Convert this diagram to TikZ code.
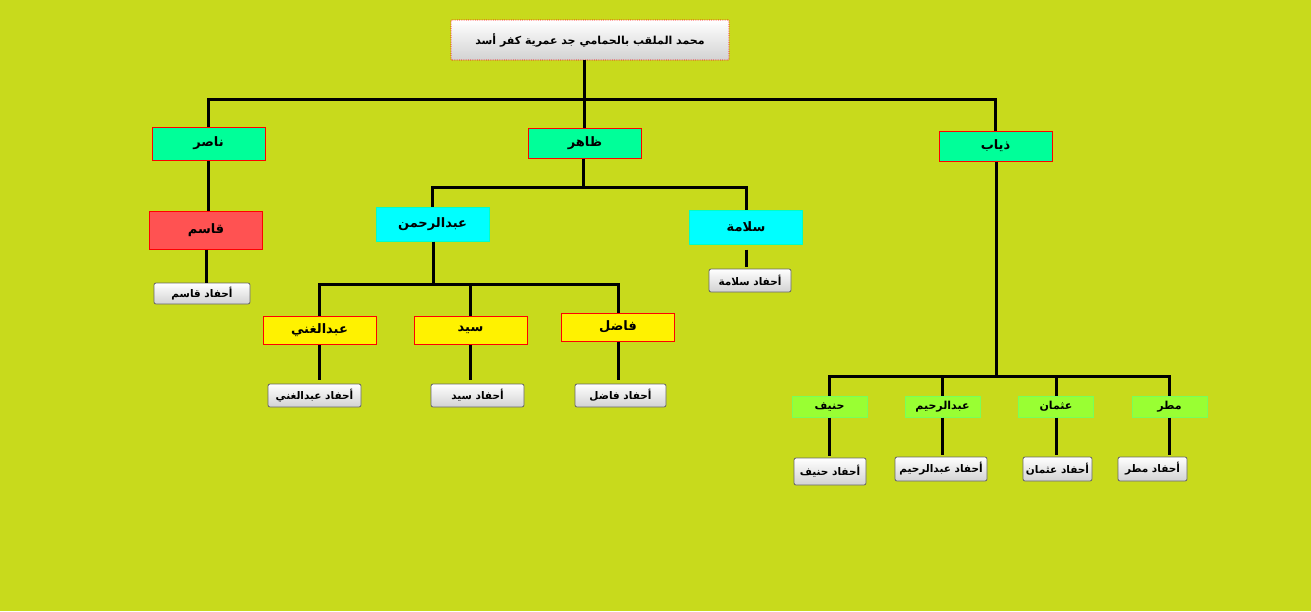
\documentclass[tikz,border=0pt]{standalone}
\usepackage{fontspec}
\newfontfamily\arabicfont[Script=Arabic]{DejaVu Sans}
\TeXXeTstate=1
\newcommand{\artext}[1]{{\arabicfont\beginR #1\endR}}

\definecolor{bgcol}{RGB}{200,218,28}
\definecolor{springcol}{RGB}{0,255,153}
\definecolor{qasimcol}{RGB}{255,82,82}
\definecolor{leafcol}{RGB}{153,255,51}
\definecolor{leafedge}{RGB}{120,255,90}
\definecolor{cyancol}{RGB}{0,255,255}
\definecolor{cyanedge}{RGB}{0,255,200}

\tikzstyle{link} = [line width=3pt]
\tikzstyle{namebox} = [draw=red, line width=1pt, inner sep=0pt,
	minimum width=113pt, font=\fontsize{13}{15}\selectfont\bfseries]
\tikzstyle{leafbox} = [draw=leafedge, fill=leafcol, line width=1pt, inner sep=0pt,
	minimum width=75pt, minimum height=21pt, font=\fontsize{11}{13}\selectfont\bfseries]
\tikzstyle{button} = [draw=gray!80!black, rounded corners=2pt, line width=0.8pt,
	top color=white, bottom color=gray!35, inner sep=0pt,
	minimum height=23pt, font=\fontsize{10.5}{12}\selectfont\bfseries]

\begin{document}
\begin{tikzpicture}[x=1pt,y=-1pt]
	\fill[bgcol] (0,0) rectangle (1311,611);
	\useasboundingbox (0,0) rectangle (1311,611);

	% root
	\node[button, draw=red, densely dotted, rounded corners=1pt, minimum width=278pt,
		minimum height=40pt, font=\fontsize{11}{13}\selectfont\bfseries] (root) at (590,40)
		{\artext{محمد الملقب بالحمامي جد عمرية كفر أسد}};

	% sons
	\node[namebox, fill=springcol, minimum height=33pt] (nasir) at (208.5,143.5) {\artext{ناصر}};
	\node[namebox, fill=springcol, minimum height=30pt] (zahir) at (585,143) {\artext{ظاهر}};
	\node[namebox, fill=springcol, minimum height=30pt] (dhiyab) at (995.5,146) {\artext{ذياب}};

	\node[namebox, fill=qasimcol, minimum height=38pt] (qasim) at (206,230) {\artext{قاسم}};
	\node[namebox, draw=cyanedge, fill=cyancol, minimum height=34pt] (abdrahman) at (432.5,224) {\artext{عبدالرحمن}};
	\node[namebox, draw=cyanedge, fill=cyancol, minimum height=34pt] (salama) at (746,227) {\artext{سلامة}};

	\node[namebox, fill=yellow, minimum height=28pt] (abdghani) at (319.5,330) {\artext{عبدالغني}};
	\node[namebox, fill=yellow, minimum height=28pt] (sayyid) at (470.5,330) {\artext{سيد}};
	\node[namebox, fill=yellow, minimum height=28pt] (fadil) at (618,327) {\artext{فاضل}};

	\node[leafbox] (hunayf) at (829.5,406.5) {\artext{حنيف}};
	\node[leafbox] (abdrahim) at (942.5,406.5) {\artext{عبدالرحيم}};
	\node[leafbox] (uthman) at (1056,406.5) {\artext{عثمان}};
	\node[leafbox] (matar) at (1169.5,406.5) {\artext{مطر}};

	% grandchildren buttons
	\node[button, minimum width=96pt, minimum height=21pt] (bqasim) at (202,293.5) {\artext{أحفاد قاسم}};
	\node[button, minimum width=82pt] (bsalama) at (750,280.5) {\artext{أحفاد سلامة}};
	\node[button, minimum width=93pt] (bghani) at (314.5,395.5) {\artext{أحفاد عبدالغني}};
	\node[button, minimum width=93pt] (bsayyid) at (477.5,395.5) {\artext{أحفاد سيد}};
	\node[button, minimum width=91pt] (bfadil) at (620.5,395.5) {\artext{أحفاد فاضل}};
	\node[button, minimum width=72pt, minimum height=27pt] (bhunayf) at (830,471.5) {\artext{أحفاد حنيف}};
	\node[button, minimum width=92pt, minimum height=24pt] (babdrahim) at (941,469) {\artext{أحفاد عبدالرحيم}};
	\node[button, minimum width=69pt, minimum height=24pt] (buthman) at (1057.5,469) {\artext{أحفاد عثمان}};
	\node[button, minimum width=69pt, minimum height=24pt] (bmatar) at (1152.5,469) {\artext{أحفاد مطر}};

	% junctions
	\coordinate (j0) at (584,99);
	\coordinate (j1) at (583,187);
	\coordinate (j2) at (433,284);
	\coordinate (j3) at (996,376);

	\draw[link] (j0 |- root.south) -- (j0);
	\draw[link] (nasir.north) -- (nasir.north |- j0) -- (dhiyab.north |- j0) -- (dhiyab.north);
	\draw[link] (j0) -- (j0 |- zahir.north);

	\draw[link] (nasir) -- (nasir |- qasim.north);
	\draw[link] (qasim.south) -- (qasim.south |- bqasim.north);

	\draw[link] (j1 |- zahir.south) -- (j1);
	\draw[link] (abdrahman.north) -- (abdrahman.north |- j1) -- (salama.north |- j1) -- (salama.north);
	\draw[link, shorten <=5pt, shorten >=2pt] (salama.south) -- (salama.south |- bsalama.north);

	\draw[link] (j2 |- abdrahman.south) -- (j2);
	\draw[link] (abdghani.north) -- (abdghani.north |- j2) -- (fadil.north |- j2) -- (fadil.north);
	\draw[link] (sayyid.north) -- (sayyid.north |- j2);
	\foreach \s/\b in {abdghani/bghani, sayyid/bsayyid, fadil/bfadil}
		\draw[link, shorten >=4pt] (\s.south) -- (\s.south |- \b.north);

	\draw[link] (j3 |- dhiyab.south) -- (j3);
	\draw[link] (hunayf.north) -- (hunayf.north |- j3) -- (matar.north |- j3) -- (matar.north);
	\draw[link] (abdrahim.north) -- (abdrahim.north |- j3);
	\draw[link] (uthman.north) -- (uthman.north |- j3);
	\foreach \s/\b in {hunayf/bhunayf, abdrahim/babdrahim, uthman/buthman, matar/bmatar}
		\draw[link, shorten >=2pt] (\s.south) -- (\s.south |- \b.north);
\end{tikzpicture}
\end{document}
